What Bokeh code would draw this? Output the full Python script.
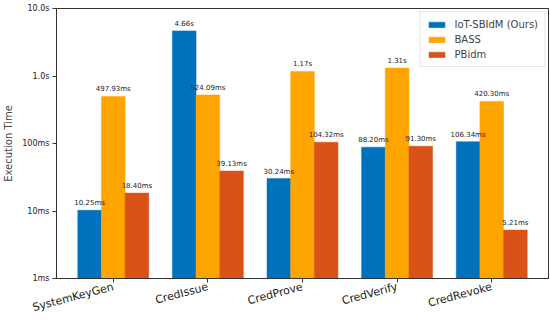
from bokeh.plotting import figure
from bokeh.models import Range1d, FixedTicker, ColumnDataSource, Legend, LegendItem, LabelSet
from bokeh.core.properties import value
from bokeh.embed import file_html
from bokeh.resources import INLINE

categories = ["SystemKeyGen", "CredIssue", "CredProve", "CredVerify", "CredRevoke"]
series_names = ["IoT-SBIdM (Ours)", "BASS", "PBidm"]
iot_ms = [10.25, 4660.0, 30.24, 88.20, 106.34]
bass_ms = [497.93, 524.09, 1170.0, 1310.0, 420.30]
pbidm_ms = [18.40, 39.13, 104.32, 91.30, 5.21]
colors = ["#0072BD", "#FFA500", "#D95319"]
y_ticks = [1, 10, 100, 1000, 10000]
y_tick_labels = ["1ms", "10ms", "100ms", "1.0s", "10.0s"]


def fmt(v):
    return "%.2fs" % (v / 1000.0) if v >= 1000 else "%.2fms" % v


p = figure(frame_width=492, frame_height=270, y_axis_type="log",
           x_range=Range1d(-0.6, 4.6), y_range=Range1d(1, 10000),
           output_backend="svg", toolbar_location=None,
           min_border_left=52, min_border_right=2, min_border_top=8, min_border_bottom=36)
p.background_fill_color = "white"
p.border_fill_color = "white"
p.outline_line_color = "#333333"
p.outline_line_width = 1
p.grid.visible = False

width = 0.25
offsets = [-0.25, 0.0, 0.25]
items = []
for vals, name, col, off in zip([iot_ms, bass_ms, pbidm_ms], series_names, colors, offsets):
    src = ColumnDataSource(dict(x=[i + off for i in range(len(categories))], top=vals,
                                bottom=[1] * len(vals), lab=[fmt(v) for v in vals]))
    r = p.vbar(x="x", top="top", bottom="bottom", width=width, source=src,
               fill_color=col, line_color=col, line_width=0.5)
    items.append(LegendItem(label=name, renderers=[r]))
    p.add_layout(LabelSet(x="x", y="top", text="lab", source=src, text_align="center",
                          text_baseline="bottom", y_offset=3, text_font_size=value("7px"),
                          text_color="#222222", text_font=value("DejaVu Sans")))

legend = Legend(items=items, location="top_right", label_text_font="DejaVu Sans",
                label_text_font_size="10px", glyph_width=20, glyph_height=7,
                spacing=3, padding=6, margin=3, border_line_color="#cccccc",
                border_line_width=1, label_height=12, label_standoff=8,
                background_fill_alpha=0.9)
p.add_layout(legend, "center")

p.yaxis.ticker = FixedTicker(ticks=y_ticks)
p.yaxis.major_label_overrides = {t: l for t, l in zip(y_ticks, y_tick_labels)}
p.yaxis.minor_tick_line_color = None
p.yaxis.axis_label = "Execution Time"
p.yaxis.axis_label_text_font = "DejaVu Sans"
p.yaxis.axis_label_text_font_size = "10px"
p.yaxis.axis_label_text_font_style = "normal"
p.yaxis.axis_label_standoff = 5
p.yaxis.major_label_text_font = "DejaVu Sans"
p.yaxis.major_label_text_font_size = "8px"
p.yaxis.major_label_standoff = 3

p.xaxis.ticker = FixedTicker(ticks=list(range(len(categories))))
p.xaxis.major_label_overrides = {i: c for i, c in enumerate(categories)}
p.xaxis.minor_tick_line_color = None
p.xaxis.major_label_orientation = 0.26
p.xaxis.major_label_text_font = "DejaVu Sans"
p.xaxis.major_label_text_font_size = "11px"
p.xaxis.major_label_standoff = 4

for ax in (p.xaxis, p.yaxis):
    ax.axis_line_color = "#333333"
    ax.major_tick_line_color = "#333333"
    ax.major_tick_out = 4
    ax.major_tick_in = 0
    ax.major_label_text_color = "#222222"

open("out.html", "w").write(file_html(p, INLINE))
